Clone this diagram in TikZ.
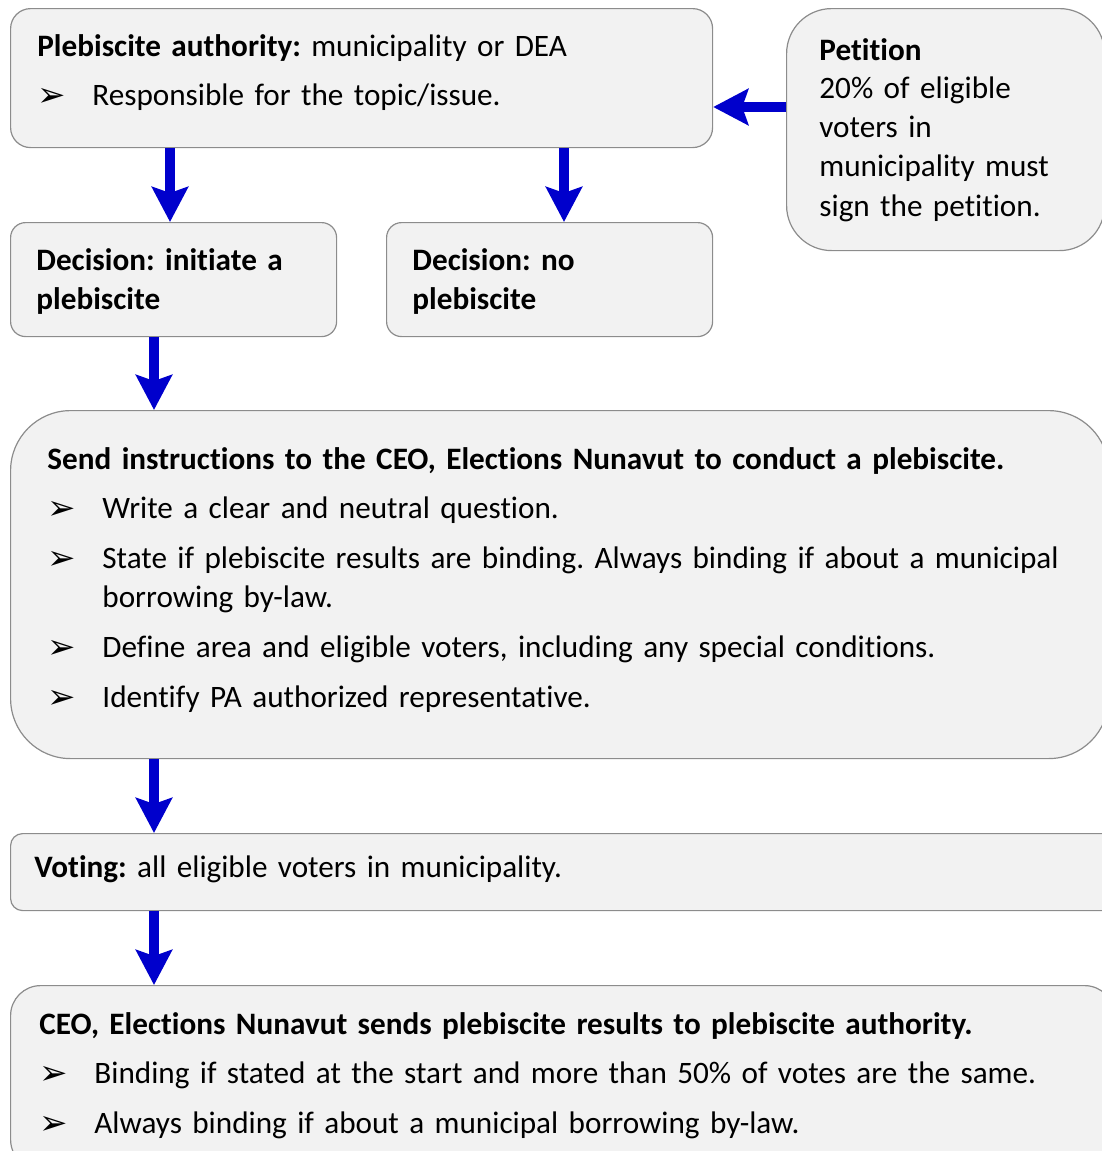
\documentclass[tikz,border=0pt]{standalone}
\usepackage{fontspec}
\setmainfont{Carlito}[Ligatures=NoCommon,WordSpace=0.9]
\newfontfamily\dingfont{DejaVu Sans}
\usepackage{tikz}
\usetikzlibrary{arrows.meta}
\usetikzlibrary{calc}

\definecolor{boxfill}{HTML}{F2F2F2}
\definecolor{boxline}{HTML}{8C8C8C}
\definecolor{flowblue}{HTML}{0000CC}

\newcommand{\pbul}{\makebox[27.5pt][l]{\raisebox{-0.5pt}{\dingfont\fontsize{17}{17}\selectfont ➢}}}
\frenchspacing

\begin{document}
\begin{tikzpicture}[
        x=0.5pt, y=-0.5pt,
        pbox/.style={rectangle,rounded corners=#1,draw=boxline,fill=boxfill,line width=0.6pt,anchor=north west,inner sep=0pt},
        ptext/.style={anchor=base west,inner sep=0pt,text width=540pt,align=left,font=\fontsize{15.6}{19.5}\selectfont},
        flow/.style={line width=5pt,flowblue,-{Stealth[length=17.5pt,width=18pt,inset=3pt]}},
        ]
        \useasboundingbox (0,0) rectangle (1102,1151);
        \clip (0,0) rectangle (1102,1151);

        % boxes
        \node[pbox=10pt, minimum width=351pt, minimum height=69.5pt](pauth) at (10,8){};
        \node[pbox=22.5pt, minimum width=159pt, minimum height=121pt](petition) at (786,8){};
        \node[pbox=7.5pt, minimum width=163pt, minimum height=57pt](initiate) at (10,222){};
        \node[pbox=7.5pt, minimum width=163pt, minimum height=57pt](noplebi) at (386,222){};
        \node[pbox=30pt, minimum width=549pt, minimum height=174pt](instruct) at (10,410){};
        \node[pbox=6pt, minimum width=552pt, minimum height=38.5pt](voting) at (10,833){};
        \node[pbox=15pt, minimum width=552pt, minimum height=92pt](results) at (10,985){};

        % texts
        \node[ptext](pauth_txt) at (37,56){\textbf{Plebiscite authority:} municipality or DEA\\[5pt]
            \pbul Responsible for the topic/issue.};
        \node[ptext, text width=150pt](petition_txt) at (819,60){\textbf{Petition}\\20\% of eligible\\voters in\\municipality must\\sign the petition.};
        \node[ptext, text width=150pt](initiate_txt) at (36,270){\textbf{Decision: initiate a}\\\textbf{plebiscite}};
        \node[ptext, text width=150pt](noplebi_txt) at (412,270){\textbf{Decision: no}\\\textbf{plebiscite}};
        \node[ptext](instruct_txt) at (47,469){\textbf{Send instructions to the CEO, Elections Nunavut to conduct a plebiscite.}\\[5pt]
            \pbul Write a clear and neutral question.\\[5.5pt]
            \pbul State if plebiscite results are binding. Always binding if about a municipal\\
            \hspace*{27.5pt}borrowing by-law.\\[5.5pt]
            \pbul Define area and eligible voters, including any special conditions.\\[5.5pt]
            \pbul Identify PA authorized representative.};
        \node[ptext](voting_txt) at (34,877){\textbf{Voting:} all eligible voters in municipality.};
        \node[ptext](results_txt) at (39,1034){\textbf{CEO, Elections Nunavut sends plebiscite results to plebiscite authority.}\\[5pt]
            \pbul Binding if stated at the start and more than 50\% of votes are the same.\\[5.5pt]
            \pbul Always binding if about a municipal borrowing by-law.};

        % arrows
        \coordinate (lane_a) at (170,0);
        \coordinate (lane_b) at (564,0);
        \coordinate (lane_c) at (154,0);
        \coordinate (lane_p) at (0,107);
        \draw[flow] (pauth.south -| lane_a) -- (initiate.north -| lane_a);
        \draw[flow] (pauth.south -| lane_b) -- (noplebi.north -| lane_b);
        \draw[flow] (petition.west |- lane_p) -- (pauth.east |- lane_p);
        \draw[flow] (initiate.south -| lane_c) -- (instruct.north -| lane_c);
        \draw[flow] (instruct.south -| lane_c) -- (voting.north -| lane_c);
        \draw[flow] (voting.south -| lane_c) -- (results.north -| lane_c);

\end{tikzpicture}
\end{document}
